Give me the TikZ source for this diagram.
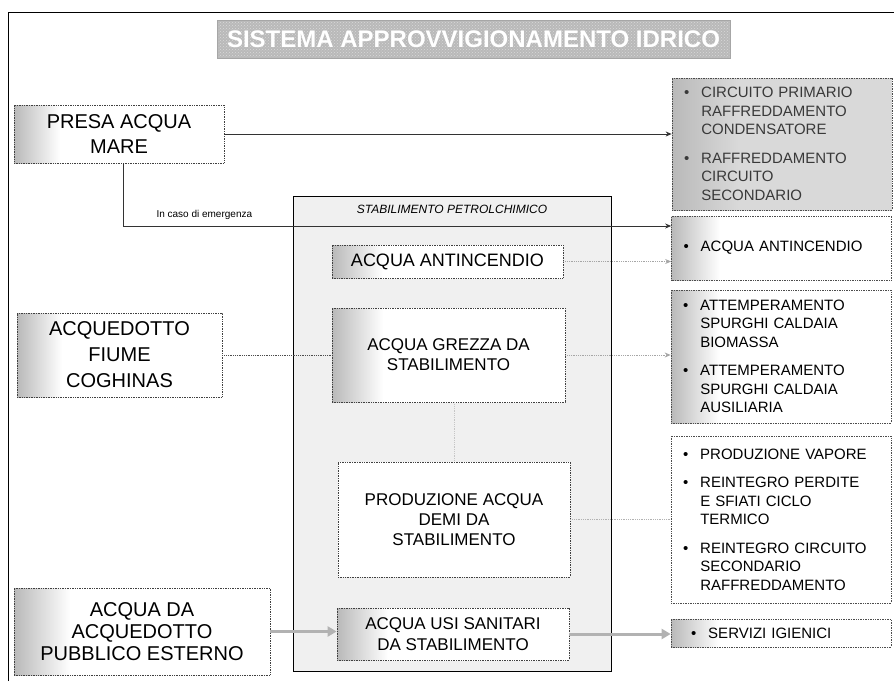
\documentclass[tikz,border=0pt]{standalone}
\usepackage{fontspec}
\setmainfont{Liberation Sans}
\usetikzlibrary{arrows.meta,patterns}

\pgfdeclarehorizontalshading{fadebox}{100bp}{color(0bp)=(gray!55); color(25bp)=(gray!55); color(36bp)=(white); color(100bp)=(white)}
\pgfdeclarehorizontalshading{fadegrey}{100bp}{color(0bp)=(gray!55); color(25bp)=(gray!55); color(40bp)=(gray!30); color(100bp)=(gray!30)}

\newcommand{\voce}[1]{\hangindent=1.15em\hangafter=1\noindent\makebox[1.15em][l]{\textbullet}#1\par}

\tikzset{
  srcbox/.style={rectangle,draw=black!75,densely dotted,line width=0.7pt,shade,shading=fadebox,align=center,inner sep=0pt},
  listbox/.style={rectangle,draw=black!70,densely dotted,line width=0.7pt,text width=196pt,inner xsep=12pt,inner ysep=0pt,font=\raggedright\fontsize{15}{18.5}\selectfont},
  link/.style={line width=0.8pt,draw=black!80,-{Stealth[length=6pt,width=5pt]}},
  faintlink/.style={line width=0.8pt,draw=gray!60,densely dotted},
  fatarrow/.style={line width=3pt,draw=gray!60,-{Triangle[length=9pt,width=10pt]}}
}

\begin{document}
\begin{tikzpicture}[x=1pt,y=-1pt]
  \useasboundingbox (0,0) rectangle (894,681);
  \draw[line width=0.9pt] (8,681) -- (8,12) -- (894,12);

  \node[rectangle,draw=gray!70,preaction={fill=gray!55},pattern=crosshatch dots,pattern color=gray!30,minimum width=513pt,minimum height=38pt,text=white,font=\bfseries\fontsize{24}{28}\selectfont] (titolo) at (473.5,39) {SISTEMA APPROVVIGIONAMENTO IDRICO};

  \node[rectangle,draw=black,line width=0.9pt,fill=gray!12,minimum width=318pt,minimum height=475pt] (stab) at (452,433.5) {};
  \node[below=6pt,font=\itshape\fontsize{12}{14}\selectfont] (stablbl) at (stab.north) {STABILIMENTO PETROLCHIMICO};

  \node[srcbox,minimum width=210pt,minimum height=58pt,font=\fontsize{20}{25}\selectfont] (presa) at (119,134) {PRESA ACQUA\\MARE};
  \node[srcbox,minimum width=205pt,minimum height=84pt,font=\fontsize{20}{26}\selectfont] (fiume) at (119.5,355) {ACQUEDOTTO\\FIUME\\COGHINAS};
  \node[srcbox,minimum width=256pt,minimum height=87pt,font=\fontsize{20}{22}\selectfont] (pubblico) at (142,631.5) {ACQUA DA\\ACQUEDOTTO\\PUBBLICO ESTERNO};

  \node[srcbox,minimum width=231pt,minimum height=33pt,font=\fontsize{18}{21}\selectfont] (antinc) at (447.5,261.5) {ACQUA ANTINCENDIO};
  \node[srcbox,minimum width=233pt,minimum height=94pt,font=\fontsize{17}{20}\selectfont] (grezza) at (448.5,355) {ACQUA GREZZA DA\\STABILIMENTO};
  \node[rectangle,draw=black!75,densely dotted,line width=0.7pt,fill=white,align=center,minimum width=232pt,minimum height=115pt,font=\fontsize{17}{20}\selectfont] (demi) at (454,519.5) {PRODUZIONE ACQUA\\DEMI DA\\STABILIMENTO};
  \node[srcbox,minimum width=232pt,minimum height=52pt,font=\fontsize{17}{21}\selectfont] (sanitari) at (453,634) {ACQUA USI SANITARI\\DA STABILIMENTO};

  \node[listbox,shade,shading=fadegrey,text=gray!45!black,minimum height=132pt] (raffr) at (782,144) {\voce{CIRCUITO PRIMARIO\newline RAFFREDDAMENTO\newline CONDENSATORE}\vspace{10pt}\voce{RAFFREDDAMENTO\newline CIRCUITO\newline SECONDARIO}};
  \node[listbox,shade,shading=fadebox,minimum height=64pt] (incendio) at (781.5,248) {\voce{ACQUA ANTINCENDIO}};
  \node[listbox,shade,shading=fadebox,minimum height=133pt] (spurghi) at (781,356.5) {\voce{ATTEMPERAMENTO\newline SPURGHI CALDAIA\newline BIOMASSA}\vspace{10pt}\voce{ATTEMPERAMENTO\newline SPURGHI CALDAIA\newline AUSILIARIA}};
  \node[listbox,fill=white,minimum height=167pt] (vapore) at (781,519.5) {\voce{PRODUZIONE VAPORE}\vspace{10pt}\voce{REINTEGRO PERDITE\newline E SFIATI CICLO\newline TERMICO}\vspace{10pt}\voce{REINTEGRO CIRCUITO\newline SECONDARIO\newline RAFFREDDAMENTO}};
  \node[listbox,shade,shading=fadebox,minimum height=28pt] (igienici) at (781,633) {\hspace{8pt}\voce{SERVIZI IGIENICI}};

  \coordinate (emerg) at (123,226);
  \node[anchor=west,font=\fontsize{10}{12}\selectfont] (emlbl) at (153,215) {In caso di emergenza};

  \draw[link] (presa.east) -- (presa.east -| raffr.west);
  \draw[link] (presa.south -| emerg) |- (incendio.west |- emerg);
  \draw[link,draw=gray!70,densely dotted] (antinc.east) -- (antinc.east -| incendio.west);
  \draw[faintlink,draw=black!70] (fiume.east) -- (grezza.west);
  \draw[link,draw=gray!70,densely dotted] (grezza.east) -- (grezza.east -| spurghi.west);
  \draw[faintlink,draw=gray!45] (demi.north |- grezza.south) -- (demi.north);
  \draw[faintlink] (demi.east) -- (vapore.west);
  \draw[fatarrow] (pubblico.east) -- (pubblico.east -| sanitari.west);
  \draw[fatarrow] (sanitari.east) -- (sanitari.east -| igienici.west);
\end{tikzpicture}
\end{document}
